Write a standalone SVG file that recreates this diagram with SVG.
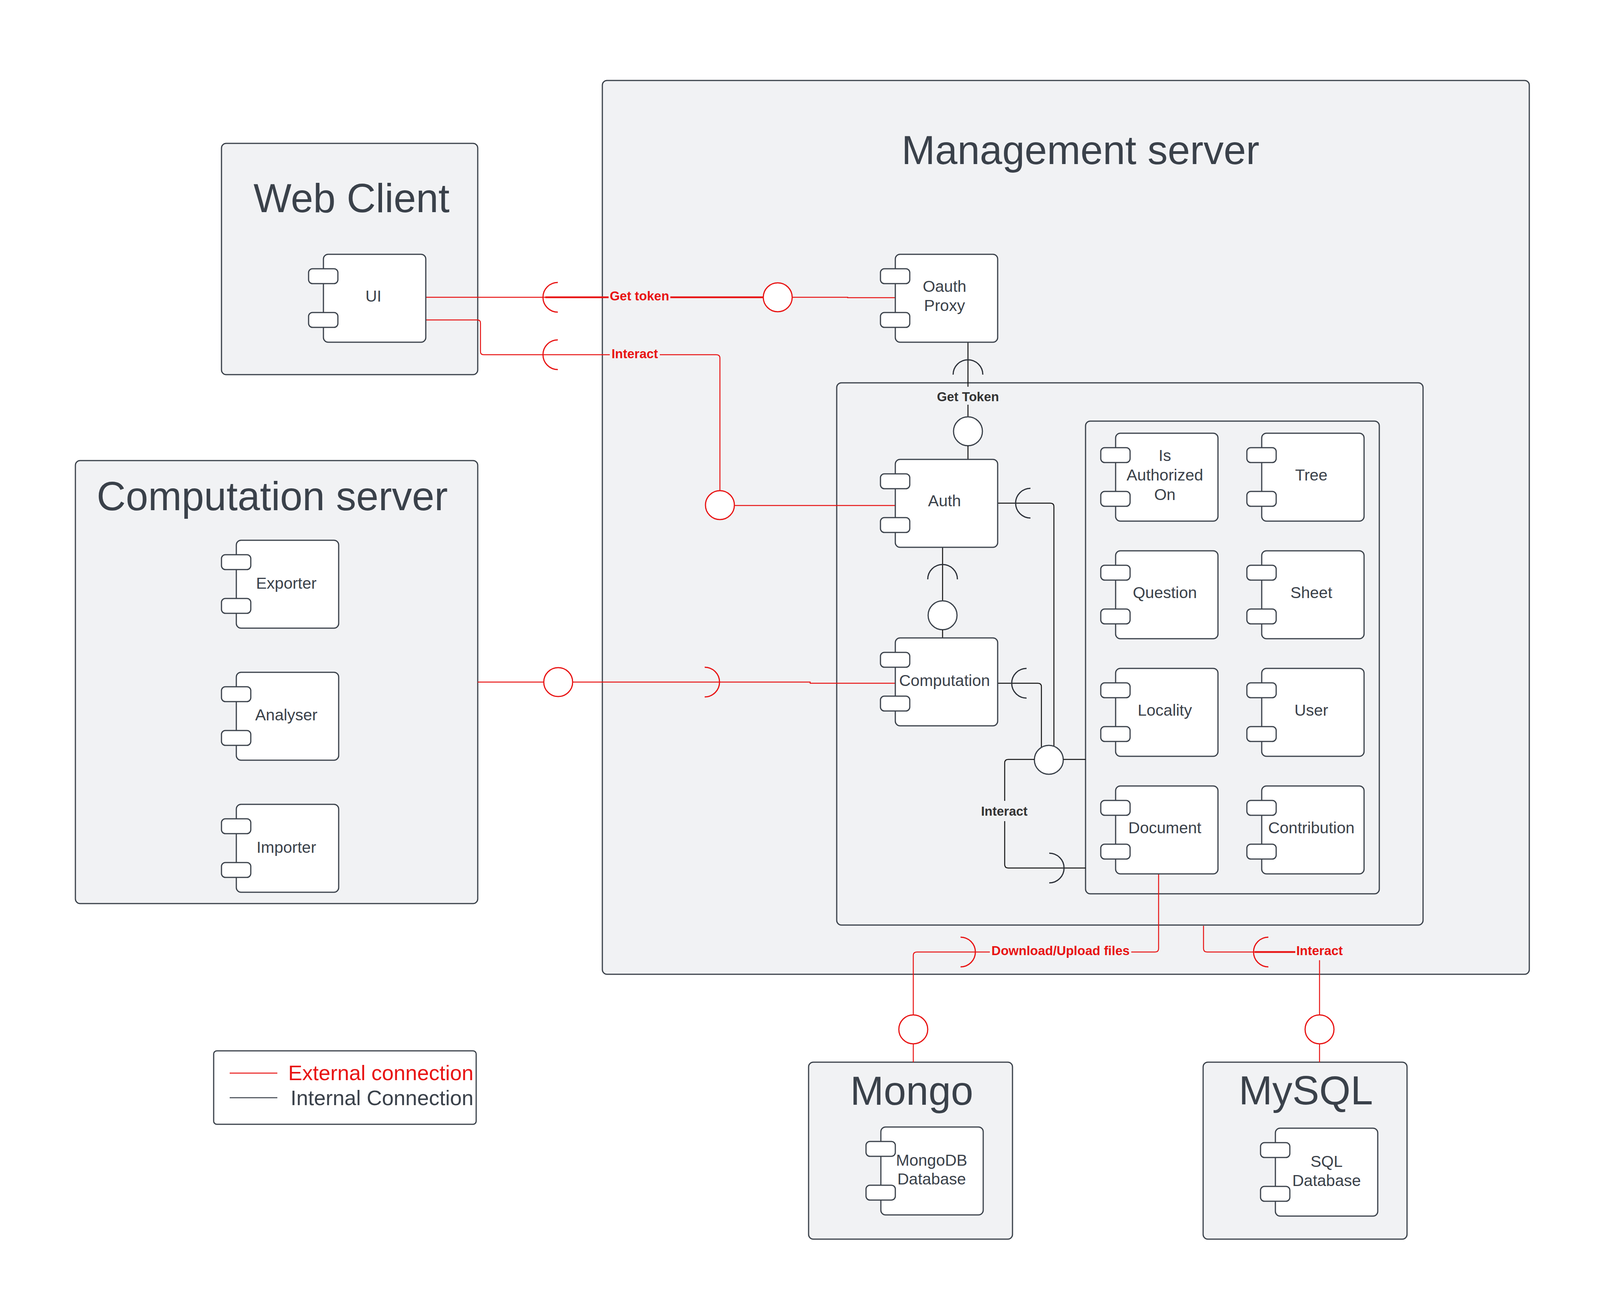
<svg xmlns="http://www.w3.org/2000/svg" xmlns:xlink="http://www.w3.org/1999/xlink" width="4168" height="3315" viewBox="0 0 4168 3315">
<defs>
<style>
.bg{fill:#ffffff}
.cont{fill:#f1f2f4;stroke:#3a414a;stroke-width:3}
.comp{fill:#ffffff;stroke:#3a414a;stroke-width:3}
.title{font-family:"Liberation Sans",Arial,sans-serif;font-size:103px;fill:#3a414a;text-anchor:middle}
.lbl{font-family:"Liberation Sans",Arial,sans-serif;font-size:41px;fill:#3a414a;text-anchor:middle}
.rl{fill:none;stroke:#e81313;stroke-width:2.5}
.rthick{fill:none;stroke:#e81313;stroke-width:4.5}
.rarc{fill:none;stroke:#e81313;stroke-width:3}
.rcirc{fill:#ffffff;stroke:#e81313;stroke-width:3}
.bl{fill:none;stroke:#111111;stroke-width:2.5}
.barc{fill:none;stroke:#2b3038;stroke-width:3}
.bcirc{fill:#ffffff;stroke:#3a414a;stroke-width:3}
.rtxt{font-family:"Liberation Sans",Arial,sans-serif;font-size:33px;font-weight:bold;fill:#e81313;text-anchor:middle}
.btxt{font-family:"Liberation Sans",Arial,sans-serif;font-size:33px;font-weight:bold;fill:#333333;text-anchor:middle}
</style>
<g id="compShape">
<rect class="comp" x="0" y="0" width="262" height="225" rx="12"/>
<rect class="comp" x="-38" y="37" width="75" height="38" rx="10"/>
<rect class="comp" x="-38" y="149" width="75" height="38" rx="10"/>
</g>
</defs>
<rect class="bg" x="0" y="0" width="4168" height="3315"/>

<g id="management-server">
<rect class="cont" x="1542" y="206" width="2373" height="2288" rx="12"/>
<text class="title" x="2766" y="420">Management server</text>
</g>
<g id="web-client">
<rect class="cont" x="567" y="367" width="656" height="592" rx="12"/>
<text class="title" x="900" y="543">Web Client</text>
</g>
<g id="computation-server">
<rect class="cont" x="193" y="1179" width="1030" height="1134" rx="12"/>
<text class="title" x="697" y="1306">Computation server</text>
</g>
<g id="management-inner">
<rect class="cont" x="2142" y="980" width="1501" height="1388" rx="12"/>
</g>
<g id="entities">
<rect class="cont" x="2779" y="1078" width="752" height="1210" rx="12"/>
</g>
<g id="mongo">
<rect class="cont" x="2070" y="2719" width="522" height="453" rx="12"/>
<text class="title" x="2334" y="2828">Mongo</text>
</g>
<g id="mysql">
<rect class="cont" x="3080" y="2719" width="522" height="453" rx="12"/>
<text class="title" x="3343" y="2827">MySQL</text>
</g>

<g id="connectors">
<!-- Get token (red) -->
<path class="rl" d="M1090 761 H1400"/>
<path class="rarc" d="M1428 723 A38 38 0 0 0 1428 799"/>
<path class="rthick" d="M1396 761 H1558"/>
<path class="rthick" d="M1716 761 H1954"/>
<path class="rl" d="M2028 761 H2170 V762 H2292"/>
<circle class="rcirc" cx="1991" cy="761" r="37"/>
<text class="rtxt" x="1637" y="769">Get token</text>
<!-- Interact (red, top) -->
<path class="rl" d="M1090 819 H1222 Q1230 819 1230 827 V900 Q1230 908 1238 908 H1561"/>
<path class="rl" d="M1689 908 H1834 Q1843 908 1843 917 V1256"/>
<path class="rarc" d="M1428 870 A38 38 0 0 0 1428 946"/>
<circle class="rcirc" cx="1843" cy="1293" r="37"/>
<path class="rl" d="M1880 1294 H2292"/>
<text class="rtxt" x="1625" y="917">Interact</text>
<!-- Computation server to Computation (red) -->
<path class="rl" d="M1223 1746 H1392"/>
<circle class="rcirc" cx="1429" cy="1746" r="37"/>
<path class="rl" d="M1466 1746 H2074 V1749 H2292"/>
<path class="rarc" d="M1804 1708 A38 38 0 0 1 1804 1784"/>
<!-- Download/Upload files (red) -->
<path class="rl" d="M2966 2235 V2428 Q2966 2437 2957 2437 H2896"/>
<path class="rl" d="M2534 2437 H2347 Q2338 2437 2338 2446 V2598"/>
<path class="rarc" d="M2459 2399 A38 38 0 0 1 2459 2475"/>
<circle class="rcirc" cx="2338" cy="2635" r="37"/>
<path class="rl" d="M2338 2672 V2719"/>
<text class="rtxt" x="2715" y="2445">Download/Upload files</text>
<!-- Interact (red, bottom) -->
<path class="rl" d="M3081 2370 V2428 Q3081 2437 3090 2437 H3212"/>
<path class="rthick" d="M3212 2437 H3316"/>
<path class="rarc" d="M3247 2399 A38 38 0 0 0 3247 2475"/>
<path class="rl" d="M3378 2458 V2598"/>
<circle class="rcirc" cx="3378" cy="2635" r="37"/>
<path class="rl" d="M3378 2672 V2719"/>
<text class="rtxt" x="3378" y="2445">Interact</text>
<!-- Get Token (black) Oauth -> Auth -->
<path class="bl" d="M2478 876 V990"/>
<path class="bl" d="M2478 1036 V1067"/>
<path class="barc" d="M2440 959 A38 38 0 0 1 2516 959"/>
<circle class="bcirc" cx="2478" cy="1104" r="37"/>
<path class="bl" d="M2478 1141 V1176"/>
<text class="btxt" x="2478" y="1027">Get Token</text>
<!-- Auth -> Computation -->
<path class="bl" d="M2413 1401 V1538"/>
<path class="barc" d="M2375 1483 A38 38 0 0 1 2451 1483"/>
<circle class="bcirc" cx="2413" cy="1575" r="37"/>
<path class="bl" d="M2413 1612 V1633"/>
<!-- Auth right / Computation right to entities -->
<path class="bl" d="M2554 1288 H2689 Q2698 1288 2698 1297 V1912"/>
<path class="barc" d="M2638 1250 A38 38 0 0 0 2638 1326"/>
<path class="bl" d="M2554 1749 H2657 Q2666 1749 2666 1758 V1913"/>
<path class="barc" d="M2628 1711 A38 38 0 0 0 2628 1787"/>
<circle class="bcirc" cx="2685" cy="1945" r="37"/>
<path class="bl" d="M2722 1944 H2779"/>
<path class="bl" d="M2648 1944 H2581 Q2572 1944 2572 1953 V2050"/>
<path class="bl" d="M2572 2102 V2213 Q2572 2222 2581 2222 H2779"/>
<path class="barc" d="M2686 2184 A38 38 0 0 1 2686 2260"/>
<text class="btxt" x="2571" y="2088">Interact</text>
</g>

<g id="ui">
<use xlink:href="#compShape" href="#compShape" x="828" y="651"/>
<text class="lbl" x="956" y="772">UI</text>
</g>
<g id="oauth-proxy">
<use xlink:href="#compShape" href="#compShape" x="2292" y="651"/>
<text class="lbl" x="2418" y="747">Oauth</text>
<text class="lbl" x="2418" y="796">Proxy</text>
</g>
<g id="auth">
<use xlink:href="#compShape" href="#compShape" x="2292" y="1176"/>
<text class="lbl" x="2418" y="1296">Auth</text>
</g>
<g id="computation">
<use xlink:href="#compShape" href="#compShape" x="2292" y="1633"/>
<text class="lbl" x="2418" y="1756">Computation</text>
</g>
<g id="is-authorized-on">
<use xlink:href="#compShape" href="#compShape" x="2856" y="1109"/>
<text class="lbl" x="2982" y="1180">Is</text>
<text class="lbl" x="2982" y="1230">Authorized</text>
<text class="lbl" x="2982" y="1280">On</text>
</g>
<g id="tree">
<use xlink:href="#compShape" href="#compShape" x="3230" y="1109"/>
<text class="lbl" x="3357" y="1230">Tree</text>
</g>
<g id="question">
<use xlink:href="#compShape" href="#compShape" x="2856" y="1410"/>
<text class="lbl" x="2982" y="1531">Question</text>
</g>
<g id="sheet">
<use xlink:href="#compShape" href="#compShape" x="3230" y="1410"/>
<text class="lbl" x="3357" y="1531">Sheet</text>
</g>
<g id="locality">
<use xlink:href="#compShape" href="#compShape" x="2856" y="1711"/>
<text class="lbl" x="2982" y="1832">Locality</text>
</g>
<g id="user">
<use xlink:href="#compShape" href="#compShape" x="3230" y="1711"/>
<text class="lbl" x="3357" y="1832">User</text>
</g>
<g id="document">
<use xlink:href="#compShape" href="#compShape" x="2856" y="2012"/>
<text class="lbl" x="2982" y="2133">Document</text>
</g>
<g id="contribution">
<use xlink:href="#compShape" href="#compShape" x="3230" y="2012"/>
<text class="lbl" x="3357" y="2133">Contribution</text>
</g>
<g id="exporter">
<use xlink:href="#compShape" href="#compShape" x="605" y="1383"/>
<text class="lbl" x="733" y="1507">Exporter</text>
</g>
<g id="analyser">
<use xlink:href="#compShape" href="#compShape" x="605" y="1721"/>
<text class="lbl" x="733" y="1844">Analyser</text>
</g>
<g id="importer">
<use xlink:href="#compShape" href="#compShape" x="605" y="2059"/>
<text class="lbl" x="733" y="2183">Importer</text>
</g>
<g id="mongodb-database">
<use xlink:href="#compShape" href="#compShape" x="2255" y="2885"/>
<text class="lbl" x="2385" y="2984">MongoDB</text>
<text class="lbl" x="2385" y="3032">Database</text>
</g>
<g id="sql-database">
<use xlink:href="#compShape" href="#compShape" x="3265" y="2888"/>
<text class="lbl" x="3396" y="2987">SQL</text>
<text class="lbl" x="3396" y="3036">Database</text>
</g>

<g id="legend">
<rect x="547" y="2690" width="672" height="188" rx="8" fill="#ffffff" stroke="#3a414a" stroke-width="3"/>
<line x1="588" y1="2747" x2="710" y2="2747" stroke="#e81313" stroke-width="2.5"/>
<text x="1212" y="2765" font-family="Liberation Sans, Arial, sans-serif" font-size="54" fill="#e81313" text-anchor="end">External connection</text>
<line x1="588" y1="2810" x2="710" y2="2810" stroke="#3a414a" stroke-width="2.5"/>
<text x="1212" y="2829" font-family="Liberation Sans, Arial, sans-serif" font-size="54" fill="#3a414a" text-anchor="end">Internal Connection</text>
</g>
</svg>
